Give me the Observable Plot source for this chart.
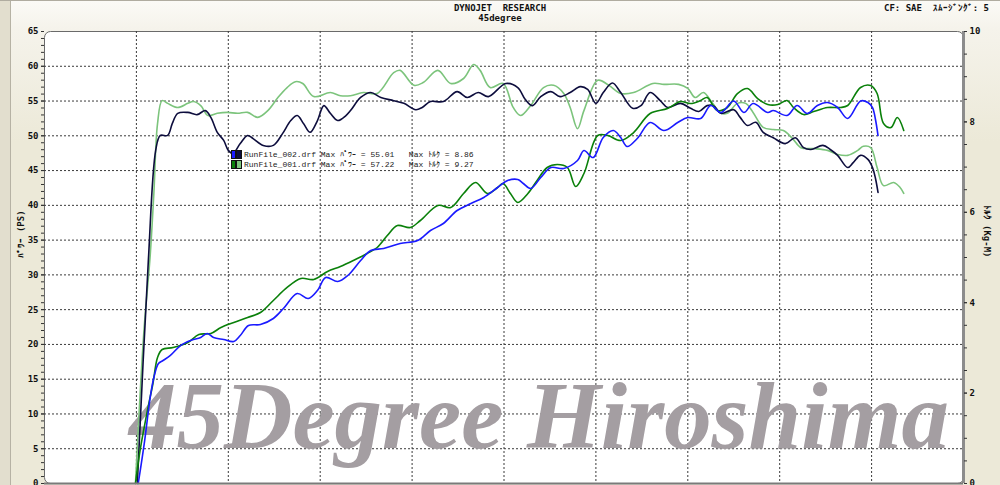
<!DOCTYPE html>
<html><head><meta charset="utf-8">
<script src="https://cdn.jsdelivr.net/npm/d3@7"></script>
<script src="https://cdn.jsdelivr.net/npm/@observablehq/plot@0.6"></script>
<style>
html,body{margin:0;padding:0;}
body{width:1000px;height:485px;overflow:hidden;background:#ECE9D8;font-family:"DejaVu Sans Mono",monospace;}
#wrap{position:relative;width:1000px;height:485px;overflow:hidden;background:linear-gradient(to bottom,#fbfaf6 0px,#f5f3eb 28px,#ECE9D8 140px);border-top:1px solid #b0aca0;box-sizing:border-box;}
#strip{position:absolute;left:0;top:0;width:10px;height:485px;background:#e2dece;border-right:1px solid #b6b2a4;}
#chart{position:absolute;left:0;top:-1px;}
.t{position:absolute;font-weight:bold;font-size:9px;color:#111;white-space:pre;line-height:10px;}
#legend{position:absolute;left:231px;top:148px;font-family:"Liberation Mono","DejaVu Sans Mono",monospace;font-size:8px;line-height:10px;color:#222;}
.row{display:flex;align-items:center;height:10px;white-space:pre;}
.sw{display:inline-block;width:5px;height:9px;box-shadow:inset 0 0 0 1px #111;}
.lt{margin-left:2px;line-height:11px;}
</style></head>
<body>
<div id="wrap">
  <div id="strip"></div>
  <div id="chart"></div>
  <div class="t" id="t1" style="left:0;width:1000px;text-align:center;top:2px;"></div>
  <div class="t" id="t2" style="left:0;width:1000px;text-align:center;top:12px;"></div>
  <div class="t" id="t3" style="right:11px;top:2px;"></div>
  <div id="legend"></div>
</div>
<script>
// ---- text ----
const titleMain = "DYNOJET  RESEARCH";
const titleSub = "45degree";
const cornerNote = "CF: SAE  ｽﾑｰｼﾞﾝｸﾞ: 5";
const powerLabel = "ﾊﾟﾜｰ (PS)";
const torqueLabel = "ﾄﾙｸ (Kg-M)";
const watermark = "45Degree Hiroshima";
const legendNames = ["RunFile_002.drf", "RunFile_001.drf"];
const legendMaxPower = ["55.01", "57.22"];
const legendMaxTorque = ["8.86", "9.27"];
const legendColors = [["#1a1aff", "#0d0d3d"], ["#0a800a", "#7cc47c"]];

// ---- axis ticks ----
const powerTicks = [0,5,10,15,20,25,30,35,40,45,50,55,60,65];
const torqueTicks = [0,2,4,6,8,10];
const xGrid = [1,2,3,4,5,6,7,8,9];

// ---- series: [x (grid units), value] ----
// RunFile_002 torque (kg-m) - dark navy
const run002Torque = [[1.01,0],[1.13,4.93],[1.21,7.37],[1.26,7.70],[1.34,7.70],[1.39,7.96],[1.45,8.19],[1.56,8.21],[1.66,8.16],[1.75,8.25],[1.81,8.10],[1.88,7.77],[1.95,7.59],[2.00,7.37],[2.05,7.30],[2.13,7.52],[2.21,7.70],[2.27,7.63],[2.38,7.48],[2.49,7.48],[2.59,7.74],[2.68,8.03],[2.75,8.14],[2.82,7.96],[2.89,7.77],[2.97,8.03],[3.04,8.36],[3.11,8.19],[3.19,8.03],[3.28,8.14],[3.33,8.25],[3.44,8.54],[3.55,8.65],[3.66,8.54],[3.80,8.47],[3.91,8.41],[4.04,8.27],[4.11,8.32],[4.20,8.45],[4.34,8.45],[4.49,8.67],[4.60,8.54],[4.72,8.65],[4.83,8.56],[5.02,8.85],[5.15,8.76],[5.23,8.50],[5.31,8.36],[5.40,8.56],[5.51,8.67],[5.61,8.56],[5.72,8.65],[5.83,8.78],[5.91,8.72],[6.00,8.41],[6.08,8.65],[6.18,8.86],[6.27,8.65],[6.40,8.30],[6.49,8.36],[6.59,8.65],[6.70,8.47],[6.78,8.32],[6.92,8.41],[7.03,8.30],[7.12,8.23],[7.21,8.36],[7.28,8.36],[7.36,8.19],[7.50,8.27],[7.57,8.10],[7.65,7.92],[7.74,7.99],[7.82,7.77],[7.93,7.65],[8.06,7.52],[8.17,7.65],[8.26,7.43],[8.34,7.39],[8.47,7.48],[8.55,7.39],[8.63,7.26],[8.74,6.99],[8.80,7.10],[8.88,7.26],[8.96,7.17],[9.01,6.99],[9.04,6.77],[9.07,6.44]];
// RunFile_001 torque (kg-m) - light green
const run001Torque = [[0.99,0],[1.08,3.32],[1.15,5.04],[1.19,6.42],[1.23,7.96],[1.28,8.47],[1.34,8.41],[1.45,8.32],[1.56,8.41],[1.62,8.45],[1.70,8.36],[1.78,8.14],[1.88,8.19],[1.99,8.21],[2.10,8.19],[2.21,8.21],[2.32,8.10],[2.43,8.25],[2.54,8.54],[2.64,8.76],[2.73,8.89],[2.81,8.85],[2.93,8.56],[3.11,8.65],[3.22,8.58],[3.33,8.58],[3.47,8.65],[3.62,8.63],[3.80,9.09],[3.87,9.14],[4.02,8.81],[4.12,8.87],[4.28,9.14],[4.42,8.85],[4.56,8.96],[4.67,9.27],[4.74,9.14],[4.85,8.76],[4.99,8.85],[5.10,8.32],[5.18,8.14],[5.29,8.36],[5.43,8.76],[5.54,8.81],[5.65,8.63],[5.72,8.32],[5.80,7.85],[5.87,8.25],[6.02,8.92],[6.14,8.81],[6.27,8.63],[6.41,8.65],[6.62,8.85],[6.74,8.83],[6.90,8.83],[7.00,8.74],[7.08,8.54],[7.17,8.65],[7.27,8.41],[7.36,8.19],[7.43,8.19],[7.54,8.41],[7.63,8.41],[7.71,8.21],[7.82,7.88],[7.93,7.83],[8.04,7.81],[8.14,7.63],[8.23,7.43],[8.37,7.41],[8.52,7.37],[8.63,7.28],[8.74,7.26],[8.85,7.37],[8.91,7.46],[8.99,7.43],[9.06,6.99],[9.13,6.59],[9.24,6.66],[9.31,6.55],[9.35,6.42]];
// RunFile_002 power (PS) - blue
const run002Power = [[1.02,0],[1.09,6.18],[1.15,12.37],[1.19,15.24],[1.24,17.26],[1.29,17.69],[1.37,18.41],[1.48,19.84],[1.59,20.56],[1.70,21.00],[1.77,21.57],[1.84,21.00],[1.95,20.71],[2.06,20.42],[2.13,21.28],[2.22,22.72],[2.35,22.86],[2.49,23.73],[2.60,25.17],[2.75,27.32],[2.87,26.60],[2.97,27.75],[3.06,29.62],[3.19,29.05],[3.30,29.91],[3.44,32.07],[3.55,33.51],[3.69,33.79],[3.87,34.51],[4.06,34.94],[4.20,36.38],[4.34,37.39],[4.49,39.26],[4.64,40.26],[4.78,41.13],[4.93,42.57],[5.04,43.57],[5.15,43.72],[5.21,43.14],[5.29,42.42],[5.40,44.00],[5.51,45.44],[5.65,45.30],[5.80,46.45],[5.87,47.89],[5.97,46.88],[6.08,49.76],[6.19,50.76],[6.27,49.76],[6.34,48.46],[6.45,49.61],[6.59,51.91],[6.74,50.76],[6.89,51.91],[7.00,52.63],[7.14,52.49],[7.25,54.36],[7.36,53.35],[7.50,55.01],[7.61,53.35],[7.71,54.64],[7.87,53.35],[7.93,53.64],[8.08,52.92],[8.19,54.36],[8.30,53.21],[8.41,54.36],[8.52,54.79],[8.63,54.07],[8.74,52.49],[8.88,55.01],[8.96,54.79],[9.01,54.07],[9.04,52.49],[9.07,50.04]];
// RunFile_001 power (PS) - green
const run001Power = [[0.99,0],[1.04,4.75],[1.12,10.50],[1.18,14.38],[1.23,18.12],[1.28,19.27],[1.40,19.56],[1.56,20.28],[1.68,21.43],[1.81,21.57],[1.92,22.43],[2.06,23.15],[2.21,23.87],[2.35,24.59],[2.49,26.32],[2.64,28.19],[2.79,29.48],[2.93,29.34],[3.08,30.49],[3.22,31.21],[3.36,32.07],[3.51,33.07],[3.62,33.94],[3.73,35.66],[3.84,37.10],[3.98,36.81],[4.09,37.82],[4.28,39.98],[4.42,39.69],[4.56,41.70],[4.69,43.28],[4.82,41.70],[4.93,42.57],[4.99,43.14],[5.07,41.70],[5.15,40.41],[5.26,41.70],[5.36,43.57],[5.47,45.44],[5.58,45.87],[5.69,45.44],[5.78,42.71],[5.87,44.58],[6.02,50.04],[6.13,50.04],[6.27,49.32],[6.41,50.47],[6.59,53.21],[6.78,53.93],[6.92,54.93],[7.03,54.64],[7.14,55.08],[7.21,55.51],[7.32,53.64],[7.43,54.07],[7.54,56.08],[7.65,56.80],[7.76,55.36],[7.87,54.50],[7.98,54.50],[8.08,55.08],[8.15,54.07],[8.26,53.06],[8.37,53.49],[8.52,54.07],[8.66,54.07],[8.74,54.36],[8.88,56.95],[8.99,57.22],[9.06,56.08],[9.13,51.77],[9.21,51.19],[9.28,52.63],[9.35,50.76]];

// torque axis (0-10 kg-m) shares the frame with power axis (0-65 PS)
const toT = 65 / 10;

document.getElementById("t1").textContent = titleMain;
document.getElementById("t2").textContent = titleSub;
document.getElementById("t3").textContent = cornerNote;

const legend = document.getElementById("legend");
legendNames.forEach((n, i) => {
  const row = document.createElement("div");
  row.className = "row";
  const a = document.createElement("span"); a.className = "sw"; a.style.background = legendColors[i][0];
  const b = document.createElement("span"); b.className = "sw"; b.style.background = legendColors[i][1]; b.style.width = "6px";
  const t = document.createElement("span"); t.className = "lt";
  t.textContent = `${n} Max ﾊﾟﾜｰ = ${legendMaxPower[i]}   Max ﾄﾙｸ = ${legendMaxTorque[i]}`;
  row.append(a, b, t);
  legend.append(row);
});

const gridStyle = {stroke: "#3a3a3a", strokeDasharray: "2,2", strokeWidth: 1};
const lineOpts = (color, scale) => ({x: d => d[0], y: d => d[1] * scale, stroke: color, strokeWidth: 1.6, curve: "catmull-rom"});

const plot = Plot.plot({
  width: 1000, height: 485,
  marginLeft: 44, marginRight: 37, marginTop: 31, marginBottom: 2,
  x: {domain: [0, 10], axis: null},
  y: {domain: [0, 65], axis: null},
  style: {fontFamily: '"DejaVu Sans Mono", monospace', fontSize: "9px", background: "transparent", overflow: "visible", color: "#111"},
  marks: [
    Plot.frame({fill: "white", stroke: "#6a6a6a", rx: 6}),
    Plot.ruleY(powerTicks.filter(d => d > 0 && d < 65), gridStyle),
    Plot.ruleX(xGrid, gridStyle),
    Plot.text([watermark], {text: d => d, frameAnchor: "bottom", lineAnchor: "bottom", dx: 35, dy: -36,
      fontSize: 96, fontStyle: "italic", fontWeight: "bold", fontFamily: "Liberation Serif", fill: "#a49ea2"}),
    Plot.line(run001Torque, lineOpts(legendColors[1][1], toT)),
    Plot.line(run002Torque, lineOpts(legendColors[0][1], toT)),
    Plot.line(run001Power, lineOpts(legendColors[1][0], 1)),
    Plot.line(run002Power, lineOpts(legendColors[0][0], 1)),
    Plot.ruleX([10], {stroke: "#8c8c8c", strokeWidth: 3}),
    Plot.ruleY([0], {stroke: "#7a7a7a", strokeWidth: 2}),
    Plot.axisY({anchor: "left", ticks: d3.range(0, 66, 1), tickSize: 3, text: null, label: null, stroke: "#333"}),
    Plot.axisY({anchor: "left", ticks: powerTicks, tickSize: 3, tickPadding: 3, fontWeight: "bold", label: null, stroke: "#333"}),
    Plot.axisY({anchor: "right", ticks: d3.range(0, 10.01, 0.5).map(t => t * toT), tickSize: 3, text: null, label: null, stroke: "#333"}),
    Plot.axisY({anchor: "right", ticks: torqueTicks.map(t => t * toT), tickFormat: d => String(Math.round(d / toT)),
      tickSize: 3, tickPadding: 3, fontWeight: "bold", label: null, stroke: "#333"}),
    Plot.text([powerLabel], {text: d => d, frameAnchor: "left", dx: -23, rotate: -90, fontWeight: "bold"}),
    Plot.text([torqueLabel], {text: d => d, frameAnchor: "right", dx: 23, rotate: 90, fontWeight: "bold"})
  ]
});
d3.select(plot).selectAll("text").filter(function() { return this.textContent === watermark; })
  .attr("textLength", 820).attr("lengthAdjust", "spacingAndGlyphs");
document.getElementById("chart").append(plot);
</script>
</body></html>
